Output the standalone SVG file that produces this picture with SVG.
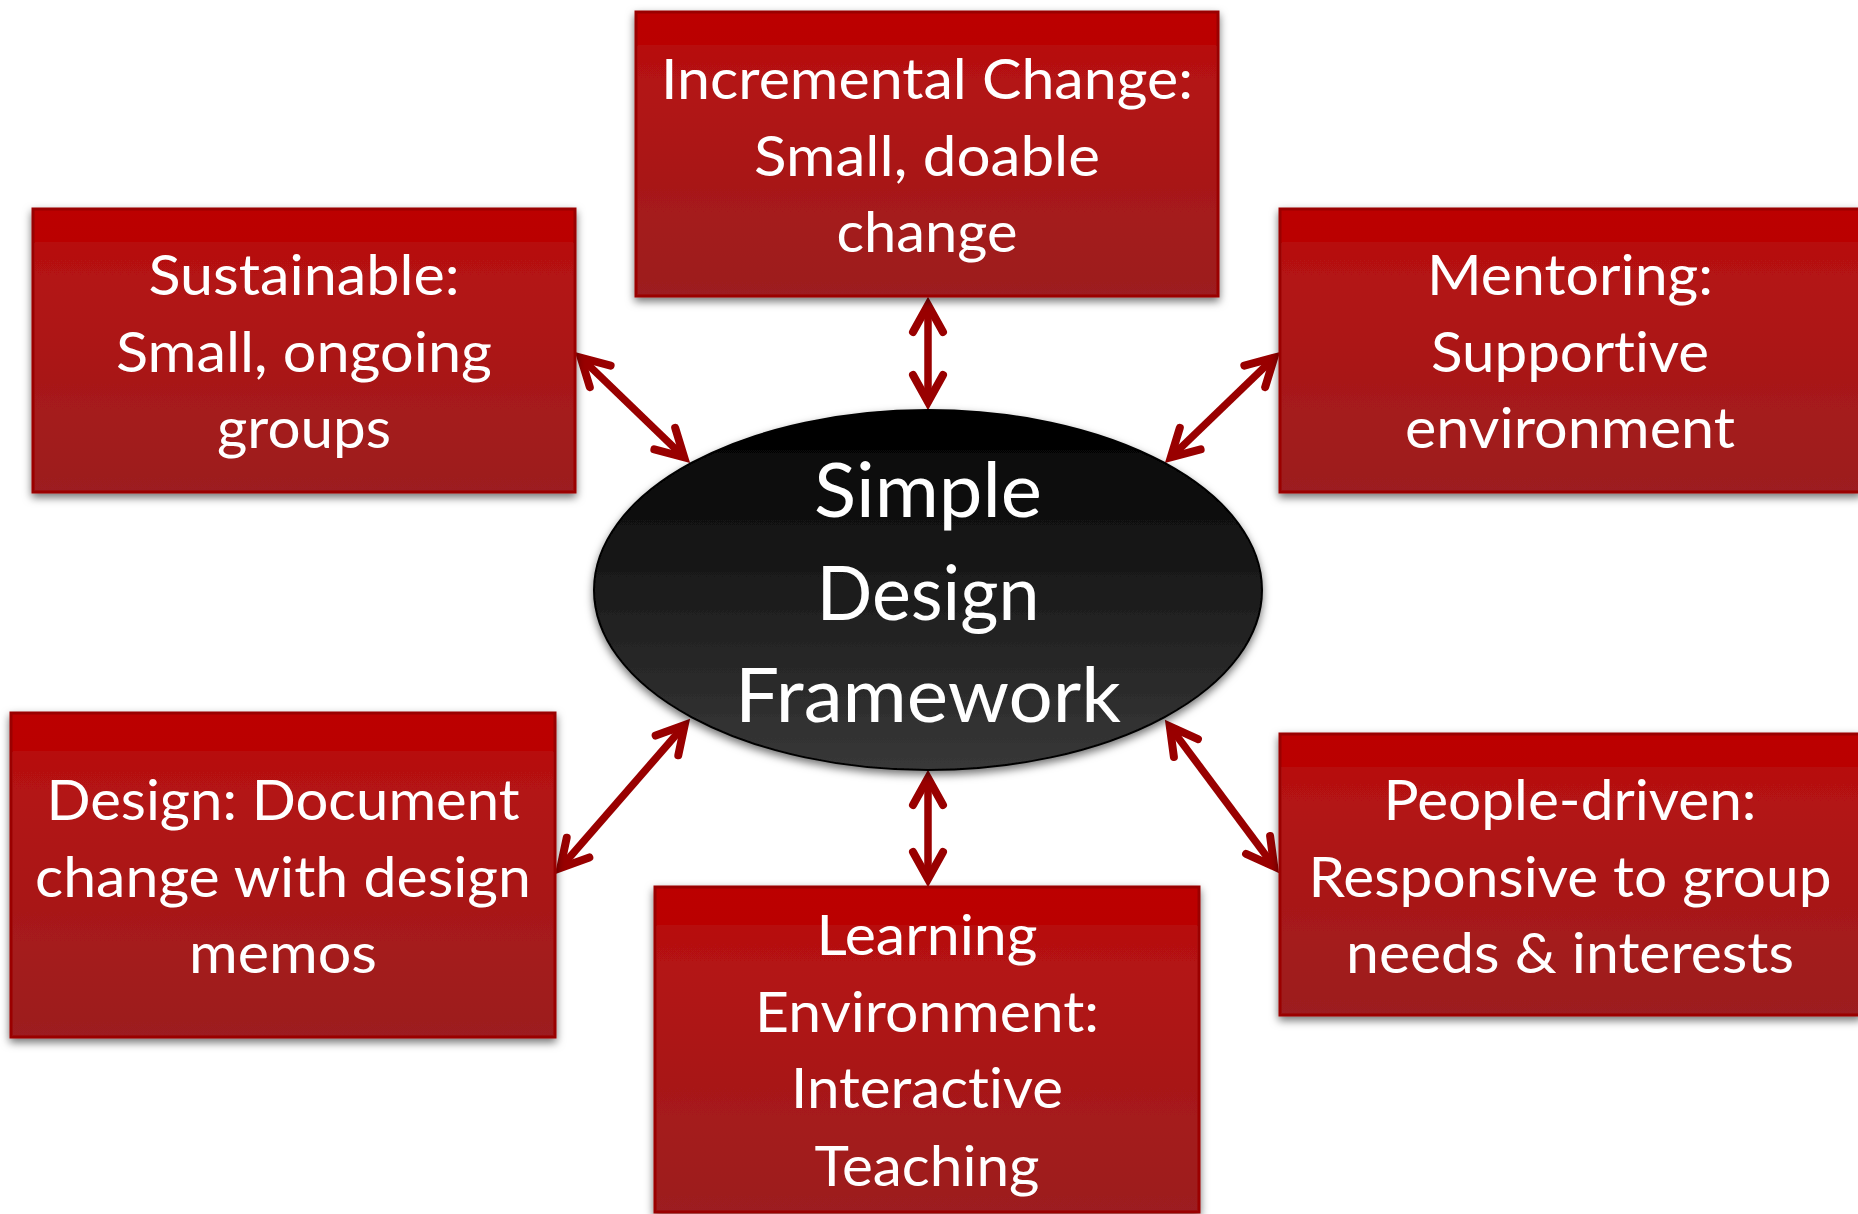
<svg xmlns="http://www.w3.org/2000/svg" width="1858" height="1214" viewBox="0 0 1858 1214">
  <defs>
    <linearGradient id="boxFill" x1="0" y1="0" x2="0" y2="1">
      <stop offset="0" stop-color="#BC0000"/>
      <stop offset="0.115" stop-color="#BA0000"/>
      <stop offset="0.12" stop-color="#B71010"/>
      <stop offset="1" stop-color="#9C1F20"/>
    </linearGradient>
    <linearGradient id="hubFill" x1="0" y1="0" x2="0" y2="1">
      <stop offset="0" stop-color="#000000"/>
      <stop offset="1" stop-color="#383838"/>
    </linearGradient>
    <filter id="shadow" x="-10%" y="-10%" width="120%" height="125%">
      <feDropShadow dx="0" dy="4" stdDeviation="4" flood-color="#000" flood-opacity="0.55"/>
    </filter>
    <marker id="head" markerUnits="userSpaceOnUse" markerWidth="60" markerHeight="60" refX="0" refY="0" viewBox="-40 -30 60 60" orient="auto-start-reverse" overflow="visible">
      <path d="M -27 -15 L 0 0 L -27 15" fill="none" stroke="#990000" stroke-width="8" stroke-linecap="round" stroke-linejoin="miter" stroke-miterlimit="10"/>
    </marker>
  </defs>
  <style>
    .box { fill: url(#boxFill); stroke: #9A0000; stroke-width: 3; filter: url(#shadow); }
    .hub { fill: url(#hubFill); stroke: #000; stroke-width: 2; filter: url(#shadow); }
    .lbl { font-family: Lato, "Open Sans", "Liberation Sans", sans-serif; font-size: 56px; fill: #fff; text-anchor: middle; font-variant-ligatures: none; }
    .hubl { font-family: Lato, "Open Sans", "Liberation Sans", sans-serif; font-size: 75px; fill: #fff; text-anchor: middle; font-variant-ligatures: none; }
    .link { stroke: #990000; stroke-width: 7.5; fill: none; marker-start: url(#head); marker-end: url(#head); }
  </style>

  <rect width="1858" height="1214" fill="#fff"/>

  <!-- connectors -->
  <g id="connectors">
    <line class="link" x1="928" y1="305" x2="928" y2="402"/>
    <line class="link" x1="580.8" y1="357.6" x2="684.2" y2="457.4"/>
    <line class="link" x1="1274.2" y1="357.6" x2="1170.8" y2="457.4"/>
    <line class="link" x1="560.3" y1="868" x2="684.7" y2="725"/>
    <line class="link" x1="1169.8" y1="726.4" x2="1274.2" y2="866.6"/>
    <line class="link" x1="928" y1="778" x2="928" y2="879"/>
  </g>

  <!-- central hub -->
  <g id="hub">
    <ellipse class="hub" cx="928" cy="590" rx="334" ry="180"/>
    <text class="hubl" x="928" y="517" textLength="228" lengthAdjust="spacingAndGlyphs">Simple</text>
    <text class="hubl" x="928" y="620" textLength="223" lengthAdjust="spacingAndGlyphs">Design</text>
    <text class="hubl" x="928" y="722" textLength="386" lengthAdjust="spacingAndGlyphs">Framework</text>
  </g>

  <g id="incremental">
    <rect class="box" x="636" y="12" width="582" height="284"/>
    <text class="lbl" x="927" y="99" textLength="532" lengthAdjust="spacingAndGlyphs">Incremental Change:</text>
    <text class="lbl" x="927" y="176" textLength="346" lengthAdjust="spacingAndGlyphs">Small, doable</text>
    <text class="lbl" x="927" y="252" textLength="181" lengthAdjust="spacingAndGlyphs">change</text>
  </g>

  <g id="sustainable">
    <rect class="box" x="33" y="209" width="542" height="283"/>
    <text class="lbl" x="304" y="295" textLength="311" lengthAdjust="spacingAndGlyphs">Sustainable:</text>
    <text class="lbl" x="304" y="372" textLength="376" lengthAdjust="spacingAndGlyphs">Small, ongoing</text>
    <text class="lbl" x="304" y="448" textLength="174" lengthAdjust="spacingAndGlyphs">groups</text>
  </g>

  <g id="mentoring">
    <rect class="box" x="1280" y="209" width="580" height="283"/>
    <text class="lbl" x="1570" y="295" textLength="286" lengthAdjust="spacingAndGlyphs">Mentoring:</text>
    <text class="lbl" x="1570" y="372" textLength="278" lengthAdjust="spacingAndGlyphs">Supportive</text>
    <text class="lbl" x="1570" y="448" textLength="330" lengthAdjust="spacingAndGlyphs">environment</text>
  </g>

  <g id="design">
    <rect class="box" x="11" y="713" width="544" height="324"/>
    <text class="lbl" x="283" y="820" textLength="473" lengthAdjust="spacingAndGlyphs">Design: Document</text>
    <text class="lbl" x="283" y="897" textLength="496" lengthAdjust="spacingAndGlyphs">change with design</text>
    <text class="lbl" x="283" y="973" textLength="188" lengthAdjust="spacingAndGlyphs">memos</text>
  </g>

  <g id="learning">
    <rect class="box" x="655" y="887" width="544" height="325"/>
    <text class="lbl" x="927" y="955" textLength="221" lengthAdjust="spacingAndGlyphs">Learning</text>
    <text class="lbl" x="927" y="1032" textLength="344" lengthAdjust="spacingAndGlyphs">Environment:</text>
    <text class="lbl" x="927" y="1108" textLength="272" lengthAdjust="spacingAndGlyphs">Interactive</text>
    <text class="lbl" x="927" y="1186" textLength="225" lengthAdjust="spacingAndGlyphs">Teaching</text>
  </g>

  <g id="people">
    <rect class="box" x="1280" y="734" width="580" height="281"/>
    <text class="lbl" x="1570" y="820" textLength="373" lengthAdjust="spacingAndGlyphs">People-driven:</text>
    <text class="lbl" x="1570" y="897" textLength="523" lengthAdjust="spacingAndGlyphs">Responsive to group</text>
    <text class="lbl" x="1570" y="973" textLength="448" lengthAdjust="spacingAndGlyphs">needs &amp; interests</text>
  </g>
</svg>
